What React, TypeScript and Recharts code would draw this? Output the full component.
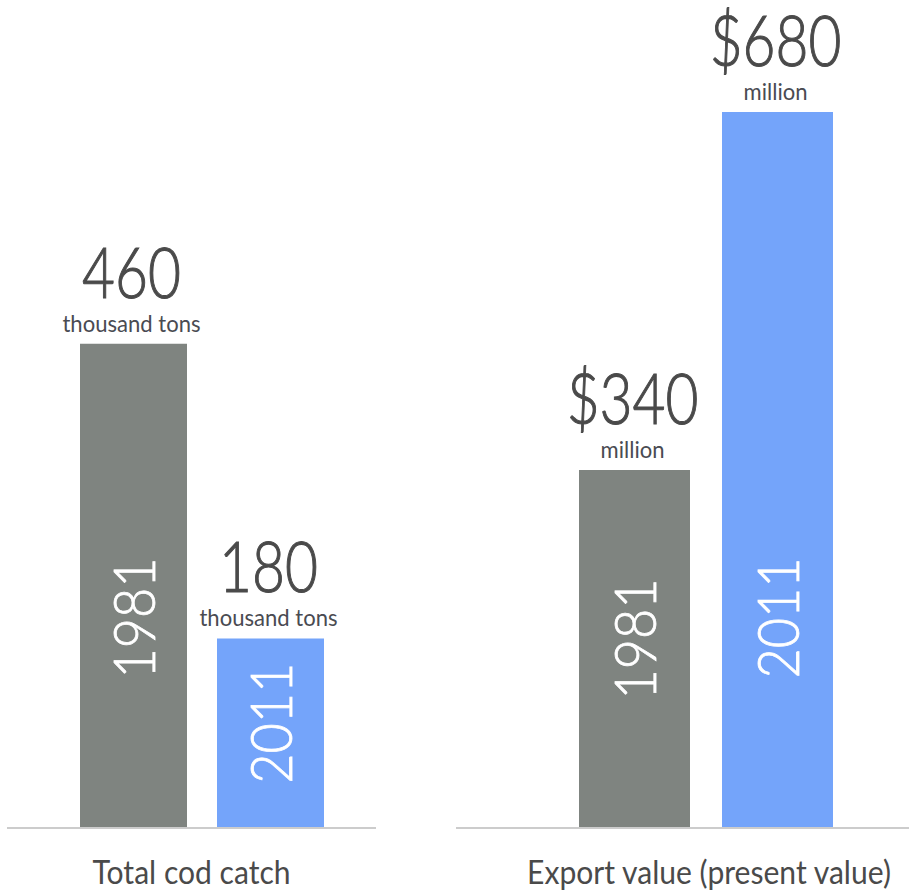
import React from 'react';
import { BarChart, Bar, XAxis, YAxis, Cell, LabelList, Label } from 'recharts';

const years = ['1981', '2011'];
const codCatchThousandTons = [460, 180];
const exportValueMillions = [340, 680];
const codUnit = 'thousand tons';
const exportUnit = 'million';
const exportPrefix = '$';
const codCaption = 'Total cod catch';
const exportCaption = 'Export value (present value)';

const barColors = ['#7f8480', '#74a4fa'];
const FONT = "Lato, 'Open Sans', sans-serif";
const TEXT = '#4a4a4a';

const codData = years.map((year, i) => ({ year, value: codCatchThousandTons[i] }));
const exportData = years.map((year, i) => ({ year, value: exportValueMillions[i] }));

const makeValueLabel = (prefix: string, unit: string) => (props: any) => {
  const { x, y, width, value } = props;
  const cx = Number(x) + Number(width) / 2 - 2;
  const top = Number(y);
  return (
    <g>
      <text
        transform={`translate(${cx},${top - 46}) scale(0.8,1)`}
        x={0}
        y={0}
        textAnchor="middle"
        fontFamily={FONT}
        fontWeight={300}
        fontSize={71}
        fill={TEXT}
        stroke={TEXT}
        strokeWidth={1.1}
      >
        {prefix + value}
      </text>
      <text
        transform={`translate(${cx},${top - 12}) scale(0.92,1)`}
        x={0}
        y={0}
        textAnchor="middle"
        fontFamily={FONT}
        fontSize={24}
        fill="#4a4b52"
      >
        {unit}
      </text>
    </g>
  );
};

const YearLabel = (props: any) => {
  const { x, y, width, height, value } = props;
  const cx = Number(x) + Number(width) / 2;
  const h = Number(height);
  const cy = Number(y) + h - Math.min(h / 2 + 10, 210);
  return (
    <text
      transform={`translate(${cx + 21},${cy}) rotate(-90) scale(0.9,1)`}
      x={0}
      y={0}
      textAnchor="middle"
      fontFamily={FONT}
      fontWeight={300}
      fontSize={58}
      fill="#ffffff"
      stroke="#ffffff"
      strokeWidth={0.8}
    >
      {value}
    </text>
  );
};

const Caption = (text: string) => (props: any) => {
  const vb = props.viewBox || {};
  const cx = Number(vb.x) + Number(vb.width) / 2;
  const yy = Number(vb.y) + 56;
  return (
    <text
      transform={`translate(${cx},${yy}) scale(0.94,1)`}
      x={0}
      y={0}
      textAnchor="middle"
      fontFamily={FONT}
      fontSize={32}
      fill={TEXT}
    >
      {text}
    </text>
  );
};

type PanelProps = {
  data: { year: string; value: number }[];
  left: number;
  width: number;
  padLeft: number;
  padRight: number;
  barSize: number;
  prefix: string;
  unit: string;
  caption: string;
};

const Panel = ({ data, left, width, padLeft, padRight, barSize, prefix, unit, caption }: PanelProps) => (
  <div style={{ position: 'absolute', left, top: 0, width, height: 894 }}>
    <BarChart width={width} height={894} data={data} margin={{ top: 91, right: 0, left: 0, bottom: 0 }}>
      <YAxis hide domain={[0, 700]} type="number" />
      <XAxis
        dataKey="year"
        height={66}
        tick={false}
        tickLine={false}
        axisLine={{ stroke: '#cccccc', strokeWidth: 2 }}
        padding={{ left: padLeft, right: padRight }}
      >
        <Label content={Caption(caption)} />
      </XAxis>
      <Bar dataKey="value" barSize={barSize} isAnimationActive={false}>
        {data.map((d, i) => (
          <Cell key={d.year} fill={barColors[i]} />
        ))}
        <LabelList dataKey="value" content={makeValueLabel(prefix, unit)} />
        <LabelList dataKey="year" content={YearLabel} />
      </Bar>
    </BarChart>
  </div>
);

export default function App() {
  return (
    <div
      style={{
        position: 'absolute',
        left: 0,
        top: 0,
        width: 909,
        height: 894,
        overflow: 'hidden',
        background: '#ffffff',
      }}
    >
      <Panel
        data={codData}
        left={7}
        width={369}
        padLeft={58}
        padRight={37}
        barSize={107}
        prefix=""
        unit={codUnit}
        caption={codCaption}
      />
      <Panel
        data={exportData}
        left={456}
        width={506}
        padLeft={107}
        padRight={113}
        barSize={111}
        prefix={exportPrefix}
        unit={exportUnit}
        caption={exportCaption}
      />
    </div>
  );
}
